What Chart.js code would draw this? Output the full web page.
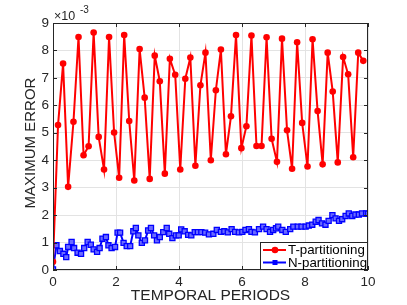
<!DOCTYPE html>
<html>
<head>
<meta charset="utf-8">
<script src="https://cdn.jsdelivr.net/npm/chart.js@4.4.1/dist/chart.umd.min.js"></script>
<style>
  html, body { margin: 0; padding: 0; background: #fff; }
  #wrap { width: 407px; height: 305px; position: relative; }
</style>
</head>
<body>
<div id="wrap"><canvas id="myChart" width="407" height="305"></canvas></div>
<script>
'use strict';

// values are in units of 1e-3 (axis shows x10^-3)
let redX = [0.00, 0.16, 0.32, 0.48, 0.65, 0.81, 0.97, 1.13, 1.29, 1.45, 1.62, 1.78, 1.94, 2.10, 2.26, 2.42,
    2.58, 2.75, 2.91, 3.07, 3.23, 3.39, 3.55, 3.71, 3.88, 4.04, 4.20, 4.36, 4.52, 4.68, 4.84, 5.01,
    5.17, 5.33, 5.49, 5.65, 5.81, 5.98, 6.14, 6.30, 6.46, 6.62, 6.78, 6.94, 7.11, 7.27, 7.43, 7.59,
    7.75, 7.91, 8.08, 8.24, 8.40, 8.56, 8.72, 8.88, 9.04, 9.21, 9.37, 9.53, 9.69, 9.85];
let redY = [0.30, 5.28, 7.52, 3.03, 5.40, 8.49, 4.18, 4.51, 8.65, 4.85, 3.66, 8.49, 5.01, 3.36, 8.56, 5.43,
    3.26, 8.05, 6.28, 3.32, 7.81, 6.88, 3.51, 7.70, 7.11, 3.66, 6.97, 7.74, 3.80, 6.73, 7.92, 4.00,
    6.55, 8.03, 4.22, 5.60, 8.56, 4.44, 5.24, 8.54, 4.52, 4.52, 8.48, 4.78, 3.94, 8.43, 5.09, 3.69,
    8.30, 5.36, 3.77, 8.41, 5.79, 3.85, 7.92, 6.50, 3.92, 7.76, 7.13, 4.11, 7.92, 7.62];

let blueX = [0.00, 0.11, 0.22, 0.33, 0.42, 0.48, 0.59, 0.67, 0.78, 0.89, 0.99, 1.10, 1.20, 1.29, 1.40, 1.48,
    1.57, 1.68, 1.76, 1.86, 1.97, 2.05, 2.13, 2.24, 2.34, 2.45, 2.55, 2.63, 2.71, 2.82, 2.92, 3.02,
    3.11, 3.21, 3.30, 3.39, 3.50, 3.61, 3.69, 3.79, 3.90, 3.99, 4.07, 4.18, 4.29, 4.39, 4.50, 4.60,
    4.71, 4.83, 4.95, 5.09, 5.20, 5.33, 5.44, 5.55, 5.67, 5.78, 5.90, 6.01, 6.11, 6.22, 6.30, 6.41,
    6.54, 6.67, 6.78, 6.89, 6.99, 7.08, 7.15, 7.28, 7.39, 7.53, 7.63, 7.77, 7.89, 8.02, 8.12, 8.23,
    8.34, 8.43, 8.54, 8.65, 8.75, 8.87, 8.97, 9.08, 9.18, 9.29, 9.39, 9.50, 9.60, 9.71, 9.81, 9.94, 10.00];
let blueY = [0.02, 0.90, 0.69, 0.59, 0.47, 0.84, 1.02, 0.80, 0.63, 0.59, 0.80, 1.02, 0.92, 0.75, 0.66, 0.80,
    1.14, 1.20, 0.90, 0.80, 0.84, 1.36, 1.36, 0.99, 0.87, 0.87, 1.41, 1.53, 1.26, 0.99, 1.08, 1.44,
    1.53, 1.26, 1.08, 1.20, 1.38, 1.53, 1.32, 1.16, 1.26, 1.26, 1.48, 1.41, 1.28, 1.26, 1.38, 1.38,
    1.38, 1.36, 1.30, 1.32, 1.46, 1.39, 1.41, 1.37, 1.49, 1.39, 1.37, 1.39, 1.46, 1.49, 1.39, 1.37,
    1.49, 1.58, 1.49, 1.39, 1.46, 1.52, 1.58, 1.46, 1.39, 1.49, 1.58, 1.58, 1.58, 1.58, 1.62, 1.65,
    1.76, 1.82, 1.70, 1.65, 1.79, 2.00, 1.88, 1.79, 1.85, 1.97, 2.06, 1.97, 2.02, 2.02, 2.06, 2.06, 2.05];

let seriesNames = ['T-partitioning', 'N-partitioning'];
let xTitle = 'TEMPORAL PERIODS';
let yTitle = 'MAXIMUM ERROR';
let xTicks = [0, 2, 4, 6, 8, 10];
let yTicks = [0, 1, 2, 3, 4, 5, 6, 7, 8, 9];

const FONT = '"Liberation Sans", Arial, sans-serif';
const AXC = '#262626';

function pairs(xs, ys) {
    let out = [];
    for (let i = 0; i < xs.length; i++) {
        out.push({ x: xs[i], y: ys[i] });
    }
    return out;
}

// box, inward ticks, legend, titles, exponent
const decor = {
    id: 'decor',
    afterDraw(chart) {
        const ctx = chart.ctx;
        const a = chart.chartArea;
        const sx = chart.scales.x;
        const sy = chart.scales.y;
        ctx.save();
        ctx.strokeStyle = AXC;
        ctx.lineWidth = 1;
        ctx.strokeRect(Math.round(a.left) + 0.5, Math.round(a.top) + 0.5,
            Math.round(a.right) - Math.round(a.left) - 1, Math.round(a.bottom) - Math.round(a.top) - 1);

        ctx.beginPath();
        xTicks.forEach(function (v) {
            let p = Math.round(sx.getPixelForValue(v)) + 0.5;
            ctx.moveTo(p, a.bottom); ctx.lineTo(p, a.bottom - 4);
            ctx.moveTo(p, a.top); ctx.lineTo(p, a.top + 4);
        });
        yTicks.forEach(function (v) {
            let p = Math.round(sy.getPixelForValue(v)) + 0.5;
            ctx.moveTo(a.left, p); ctx.lineTo(a.left + 4, p);
            ctx.moveTo(a.right, p); ctx.lineTo(a.right - 4, p);
        });
        ctx.stroke();

        // legend
        let lx = 260.5, ly = 242.5, lw = 107, lh = 27;
        ctx.fillStyle = '#fff';
        ctx.fillRect(lx, ly, lw, lh);
        ctx.strokeStyle = AXC;
        ctx.strokeRect(lx, ly, lw, lh);
        let rows = [
            { name: seriesNames[0], color: '#ff0000', y: 250 },
            { name: seriesNames[1], color: '#0000ff', y: 262.5 }
        ];
        rows.forEach(function (r, i) {
            ctx.strokeStyle = r.color;
            ctx.lineWidth = 2;
            ctx.beginPath();
            ctx.moveTo(263, r.y); ctx.lineTo(286, r.y);
            ctx.stroke();
            ctx.fillStyle = r.color;
            if (i === 0) {
                ctx.beginPath();
                ctx.arc(275, r.y, 3.3, 0, Math.PI * 2);
                ctx.fill();
            } else {
                ctx.fillRect(272.5, r.y - 2.5, 5, 5);
            }
            ctx.fillStyle = '#000';
            ctx.font = '13.3px ' + FONT;
            ctx.textAlign = 'left';
            ctx.textBaseline = 'middle';
            ctx.fillText(r.name, 288, r.y + 0.5);
        });

        // axis titles
        ctx.fillStyle = AXC;
        ctx.font = '15.5px ' + FONT;
        ctx.textAlign = 'center';
        ctx.textBaseline = 'middle';
        ctx.fillText(xTitle, (a.left + a.right) / 2, 296);
        ctx.save();
        ctx.translate(31, 143);
        ctx.rotate(-Math.PI / 2);
        ctx.font = '15px ' + FONT;
        ctx.fillText(yTitle, 0, 0);
        ctx.restore();

        // exponent label
        ctx.textAlign = 'left';
        ctx.textBaseline = 'alphabetic';
        ctx.font = '12.5px ' + FONT;
        ctx.fillText('\u00d710', 54, 19.5);
        ctx.font = '10px ' + FONT;
        ctx.fillText('-3', 80, 12.5);
        ctx.restore();
    }
};

const data = {
    datasets: [{
        label: seriesNames[0],
        data: pairs(redX, redY),
        borderColor: '#ff0000',
        backgroundColor: '#ff0000',
        borderWidth: 2,
        pointStyle: 'circle',
        pointRadius: 3.3,
        pointBorderWidth: 0,
        tension: 0
    }, {
        label: seriesNames[1],
        data: pairs(blueX, blueY),
        borderColor: '#0000ff',
        backgroundColor: '#6a6aff',
        borderWidth: 2,
        pointStyle: 'rect',
        pointRadius: 3.6,
        pointBorderWidth: 1.3,
        pointBorderColor: '#0000ff',
        tension: 0
    }]
};

const config = {
    type: 'line',
    data,
    plugins: [decor],
    options: {
        responsive: false,
        animation: false,
        layout: { padding: { top: 23, right: 39, left: 0, bottom: 0 } },
        plugins: {
            legend: { display: false },
            tooltip: { enabled: false }
        },
        scales: {
            x: {
                type: 'linear',
                min: 0,
                max: 10,
                afterFit: function (s) { s.height = 35; },
                afterBuildTicks: function (s) { s.ticks = xTicks.map(function (v) { return { value: v }; }); },
                grid: { color: '#e3e3e3', drawTicks: false },
                border: { display: false },
                ticks: { color: AXC, padding: 4, font: { family: FONT, size: 13.5 }, maxRotation: 0 }
            },
            y: {
                type: 'linear',
                min: 0,
                max: 9,
                afterFit: function (s) { s.width = 53; },
                afterBuildTicks: function (s) { s.ticks = yTicks.map(function (v) { return { value: v }; }); },
                grid: { color: '#e3e3e3', drawTicks: false },
                border: { display: false },
                ticks: { color: AXC, padding: 4, font: { family: FONT, size: 13.5 } }
            }
        }
    }
};

var myChart = new Chart(document.getElementById('myChart'), config);
</script>
</body>
</html>
